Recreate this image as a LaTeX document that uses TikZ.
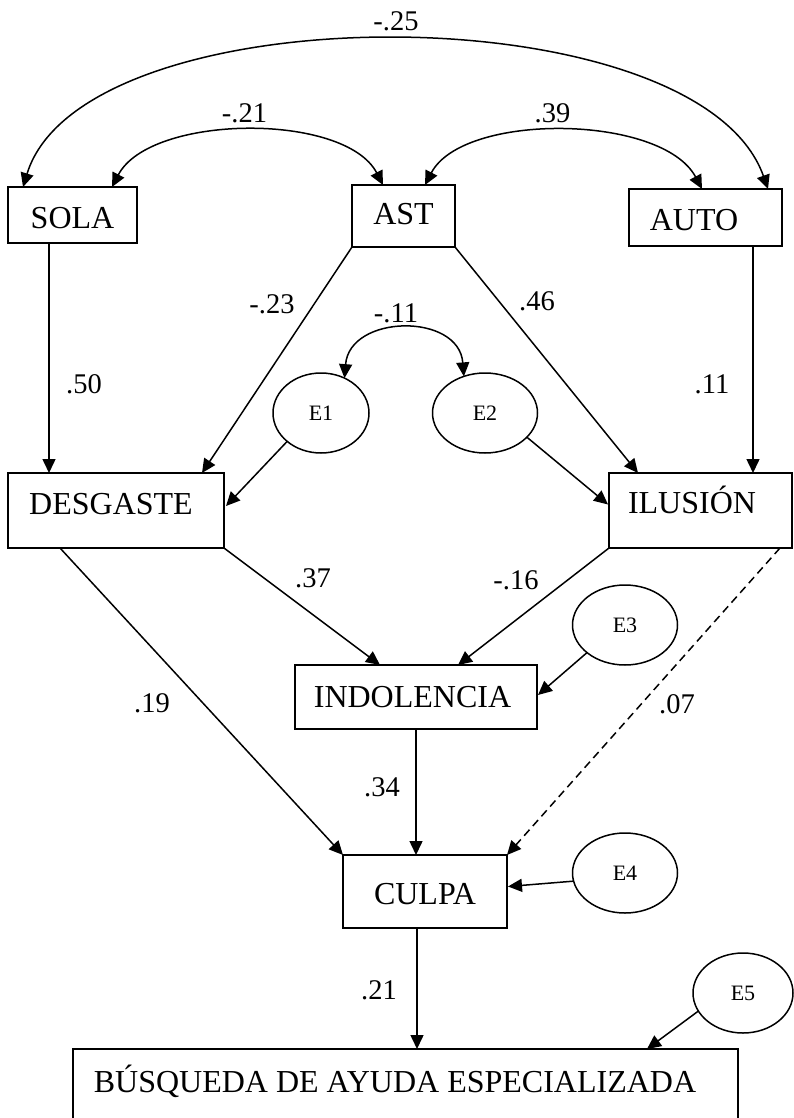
\documentclass[tikz,border=0pt]{standalone}
\usepackage{fontspec}
\setmainfont{Liberation Serif}
\usetikzlibrary{arrows.meta,shapes.geometric,calc}
\begin{document}
\begin{tikzpicture}[x=1pt,y=-1pt,
  line width=1.5pt,
  var/.style={draw, rectangle, inner sep=0pt, outer sep=0pt,
    font=\fontsize{32}{38}\selectfont, text height=21.2pt, text depth=0pt},
  err/.style={draw, ellipse, inner sep=0pt, outer sep=0pt,
    font=\fontsize{22}{26}\selectfont, minimum width=105pt, minimum height=80pt},
  coef/.style={inner sep=0pt, font=\fontsize{28.5}{34}\selectfont,
    text height=19pt, text depth=0pt},
  effect/.style={-{Triangle[length=14pt,width=13pt]}},
  corr/.style={{Triangle[length=14pt,width=13pt]}-{Triangle[length=14pt,width=13pt]}},
]
\useasboundingbox (0,0) rectangle (793,1118);

% observed variables
\node[var, minimum width=129pt, minimum height=56pt, text height=27.2pt] (sola) at (72.5,215) {SOLA};
\node[var, minimum width=103pt, minimum height=62pt, text depth=4pt] (ast) at (403.5,216) {AST};
\node[var, minimum width=153pt, minimum height=57pt, text height=26.2pt] (auto) at (705.5,217.5) {AUTO\hspace*{23pt}};
\node[var, minimum width=216pt, minimum height=75pt, text depth=13pt] (desg) at (116,510.5) {DESGASTE\hspace*{10pt}};
\node[var, minimum width=183pt, minimum height=75pt, text depth=15pt] (ilus) at (700.5,510.5) {ILUSIÓN\hspace*{17pt}};
\node[var, minimum width=242pt, minimum height=64pt] (indol) at (416,697) {INDOLENCIA\hspace*{7pt}};
\node[var, minimum width=164pt, minimum height=73pt, text height=26.2pt] (culpa) at (425,891.5) {CULPA};
\node[var, minimum width=665pt, minimum height=82pt, text depth=17pt] (busq) at (405.5,1090) {BÚSQUEDA DE AYUDA ESPECIALIZADA\hspace*{21pt}};

% error terms
\node[err, minimum width=96pt] (e1) at (321,413) {E1};
\node[err] (e2) at (485,413) {E2};
\node[err] (e3) at (625,625) {E3};
\node[err] (e4) at (625,873) {E4};
\node[err, minimum width=100pt] (e5) at (743,993) {E5};

% direct effects
\draw[effect] ($(sola.south)+(-23.5,0)$) -- ($(desg.north west)+(41,0)$);
\draw[effect] (ast.south west) -- ($(desg.north east)+(-22,0)$);
\draw[effect] (ast.south east) -- ($(ilus.north west)+(29,0)$);
\draw[effect] ($(auto.south east)+(-29,0)$) -- ($(ilus.north east)+(-39,0)$);
\draw[effect] (e1.220) -- ($(desg.east)+(2,-4.5)$);
\draw[effect] (e2.-30) -- ($(ilus.west)+(-1,-6)$);
\draw[effect] (desg.south east) -- ($(indol.north west)+(85,0)$);
\draw[effect] ($(desg.south west)+(52,0)$) -- (culpa.north west);
\draw[effect] (ilus.south west) -- ($(indol.north west)+(163,0)$);
\draw[effect, dash pattern=on 8pt off 5pt] ($(ilus.south east)+(-12,0)$) -- (culpa.north east);
\draw[effect] (e3.216) -- ($(indol.east)+(1,-2)$);
\draw[effect] (indol.south) -- (indol.south |- culpa.north);
\draw[effect] (e4.189) -- ($(culpa.east)+(1,-5)$);
\draw[effect] ($(culpa.south)+(-8,0)$) -- ($(busq.north west)+(344,0)$);
\draw[effect] (e5.202) -- ($(busq.north east)+(-91,0)$);

% correlations
\draw[corr] ($(sola.north east)+(-25,0)$) .. controls +(38,-73) and +(-38,-73) .. ($(ast.north)+(-20.5,0)$);
\draw[corr] ($(ast.north)+(21.5,0)$) .. controls +(38,-73) and +(-40,-75) .. ($(auto.north)+(-3.5,0)$);
\draw[corr] ($(sola.north west)+(15,0)$) .. controls +(60,-196) and +(-70,-198) .. ($(auto.north east)+(-14,0)$);
\draw[corr] (e1.56) .. controls +(5,-64) and +(-5,-64) .. (e2.120);

% coefficients
\node[coef] (c25) at (396,21) {-.25};
\node[coef] (c21) at (244.5,113) {-.21};
\node[coef] (c39) at (552.5,113) {.39};
\node[coef] (c11a) at (396,313) {-.11};
\node[coef] (c50) at (84,384) {.50};
\node[coef] (c23) at (272,304) {-.23};
\node[coef] (c46) at (537,301) {.46};
\node[coef] (c11b) at (712,384) {.11};
\node[coef] (c37) at (313,578) {.37};
\node[coef] (c16) at (516,580) {-.16};
\node[coef] (c19) at (152,703) {.19};
\node[coef] (c34) at (382,787) {.34};
\node[coef] (c07) at (677,704) {.07};
\node[coef] (c21b) at (379,990) {.21};
\end{tikzpicture}
\end{document}
